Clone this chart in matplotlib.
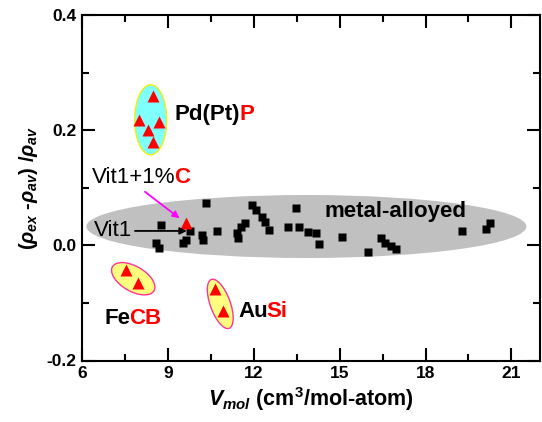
import matplotlib
matplotlib.use("Agg")
import matplotlib.pyplot as plt
from matplotlib.patches import Ellipse
from matplotlib.transforms import ScaledTranslation
from matplotlib.ticker import MultipleLocator, FormatStrFormatter

plt.rcParams['font.family'] = ['Liberation Sans', 'DejaVu Sans']
plt.rcParams['font.weight'] = 'bold'
plt.rcParams['axes.unicode_minus'] = False
plt.rcParams['mathtext.fontset'] = 'custom'
plt.rcParams['mathtext.rm'] = 'Liberation Sans:bold'
plt.rcParams['mathtext.it'] = 'Liberation Sans:italic:bold'
plt.rcParams['mathtext.bf'] = 'Liberation Sans:bold'

# metal-alloyed glasses (black squares)
metal_x = [10.32, 8.75, 8.58, 8.69, 9.79, 9.62, 9.53, 10.19, 10.23, 10.71,
           11.68, 11.54, 11.41, 11.45, 11.95, 12.09, 12.28, 12.40, 12.55, 13.48,
           13.21, 13.57, 13.88, 14.18, 14.29, 15.10, 15.98, 16.44, 16.59, 16.79,
           16.97, 19.29, 20.25, 20.10]
metal_y = [0.073, 0.035, 0.004, -0.005, 0.025, 0.010, 0.004, 0.018, 0.010, 0.025,
           0.038, 0.031, 0.022, 0.012, 0.070, 0.061, 0.050, 0.041, 0.027, 0.064,
           0.031, 0.032, 0.023, 0.022, 0.002, 0.014, -0.011, 0.012, 0.004, -0.002,
           -0.006, 0.025, 0.039, 0.028]

# metalloid-containing glasses (red triangles)
pdp_x = [8.48, 8.00, 8.69, 8.30, 8.48]
pdp_y = [0.260, 0.218, 0.215, 0.200, 0.180]
fecb_x = [7.53, 7.96]
fecb_y = [-0.043, -0.065]
ausi_x = [10.63, 10.92]
ausi_y = [-0.0765, -0.114]
vitc_x = [9.65]
vitc_y = [0.039]

fig = plt.figure(figsize=(5.42, 4.22), dpi=100)
ax = fig.add_axes([82 / 542, 61.5 / 422, 458 / 542, 345.5 / 422])


def blob(cx, cy, w_px, h_px, angle, fc, ec, lw=1.0, z=1):
    # ellipse sized in screen pixels, centred on a data point
    tr = fig.dpi_scale_trans + ScaledTranslation(cx, cy, ax.transData)
    ax.add_patch(Ellipse((0, 0), w_px / 100, h_px / 100, angle=angle,
                         transform=tr, facecolor=fc, edgecolor=ec,
                         linewidth=lw, zorder=z))


blob(13.84, 0.0327, 440, 63, 0, '#c0c0c0', 'none', 0)
blob(8.40, 0.218, 32, 70, 0, '#80ffff', '#f0f000')
blob(7.79, -0.058, 48, 25, -30, '#ffff80', '#ff3399')
blob(10.83, -0.1017, 52, 20, -70, '#ffff80', '#ff3399')

ax.plot(metal_x, metal_y, 's', color='black', ms=6, mec='none', zorder=3)
for xs, ys in [(pdp_x, pdp_y), (fecb_x, fecb_y), (ausi_x, ausi_y), (vitc_x, vitc_y)]:
    ax.plot(xs, ys, '^', color='red', ms=9, mec='none', zorder=4)


def two_tone(x, y, parts, size=16):
    s, c, w = parts[0]
    t = ax.text(x, y, s, color=c, fontweight=w, fontsize=size, va='center', zorder=5)
    for s, c, w in parts[1:]:
        t = ax.annotate(s, xy=(1, 0), xycoords=t, xytext=(-0.8, 0),
                        textcoords='offset points', va='bottom', color=c,
                        fontweight=w, fontsize=size, zorder=5)


two_tone(9.24, 0.2266, [('Pd(Pt)', 'black', 'bold'), ('P', 'red', 'bold')])
two_tone(6.77, -0.127, [('Fe', 'black', 'bold'), ('CB', 'red', 'bold')])
two_tone(11.45, -0.1155, [('Au', 'black', 'bold'), ('Si', 'red', 'bold')])
two_tone(6.35, 0.117, [('Vit1+1%', 'black', 'normal'), ('C', 'red', 'bold')])
ax.text(14.47, 0.058, 'metal-alloyed', fontsize=16, fontweight='bold', va='center', zorder=5)
ax.text(6.43, 0.0266, 'Vit1', fontsize=16, fontweight='normal', va='center', zorder=5)

ax.annotate('', xy=(9.66, 0.025), xytext=(7.85, 0.025),
            arrowprops=dict(arrowstyle='-|>', color='black', lw=1.3,
                            mutation_scale=10, shrinkA=0, shrinkB=0), zorder=5)
ax.annotate('', xy=(9.41, 0.047), xytext=(8.20, 0.093),
            arrowprops=dict(arrowstyle='-|>', color='#ff00ff', lw=1.3,
                            mutation_scale=10, shrinkA=0, shrinkB=0), zorder=5)

ax.set_xlim(6, 22)
ax.set_ylim(-0.2, 0.4)
ax.xaxis.set_major_locator(MultipleLocator(3))
ax.xaxis.set_minor_locator(MultipleLocator(1.5))
ax.yaxis.set_major_locator(MultipleLocator(0.2))
ax.yaxis.set_minor_locator(MultipleLocator(0.1))
ax.yaxis.set_major_formatter(FormatStrFormatter('%.1f'))

for sp in ax.spines.values():
    sp.set_linewidth(1.5)
ax.tick_params(which='both', direction='in', top=True, right=True, width=1.5)
ax.tick_params(which='major', length=9.5, labelsize=12.5, pad=4)
ax.tick_params(which='minor', length=5)

ax.set_xlabel(r'$V_{mol}$ (cm$^3$/mol-atom)', fontsize=15.5, fontweight='bold', labelpad=3)
ax.set_ylabel(r'($\rho_{ex}$ -$\rho_{av}$) /$\rho_{av}$', fontsize=14.5,
              fontweight='bold', labelpad=5)

fig.savefig('out.png', dpi=100)
